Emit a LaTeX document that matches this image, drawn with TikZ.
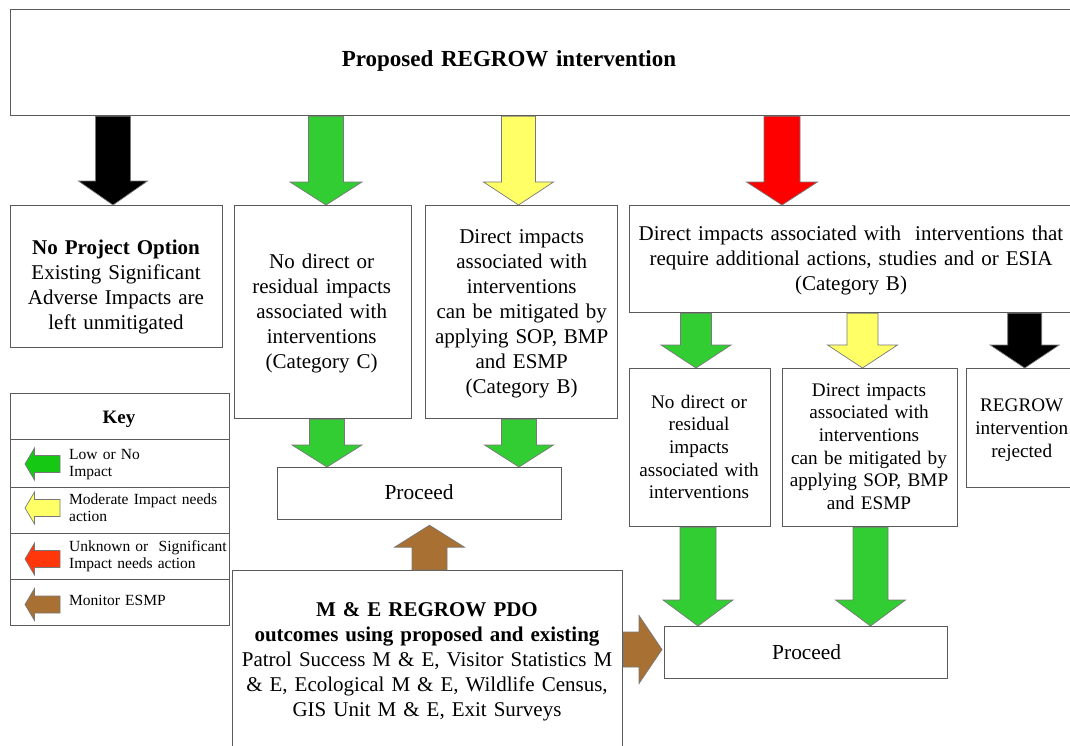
\documentclass[tikz,border=0pt]{standalone}
\usepackage{fontspec}
\setmainfont{Liberation Serif}
\usetikzlibrary{calc}
\definecolor{bordergray}{RGB}{90,90,90}
\definecolor{edgegray}{RGB}{120,120,120}
\definecolor{agreen}{RGB}{50,205,50}
\definecolor{ayellow}{RGB}{255,255,102}
\definecolor{ared}{RGB}{255,0,0}
\definecolor{kgreen}{RGB}{20,200,20}
\definecolor{kred}{RGB}{255,55,10}
\definecolor{abrown}{RGB}{168,112,50}
\tikzset{
  box/.style={draw=bordergray, line width=1.2pt, fill=white, inner sep=0pt, anchor=north west},
  txt/.style={text width=#1, align=center, anchor=base, inner sep=0pt},
  ltxt/.style={text width=#1, align=left, anchor=base west, inner sep=0pt},
  bigfont/.style={font=\fontsize{21}{25}\selectfont},
  subfont/.style={font=\fontsize{19.2}{22.7}\selectfont},
  keyfont/.style={font=\fontsize{15.5}{17}\selectfont},
  blockarrow/.style={draw=edgegray, line width=0.7pt, line join=miter},
}
% vertical block arrow: colour, x, from, to, head length, shaft half width, head half width
\newcommand{\vblk}[7]{\draw[blockarrow, fill=#1] let \p1=(#3), \p2=(#4), \n1={sign(\y2-\y1)} in
  ({(#2-#6)*1pt},\y1) -- ({(#2+#6)*1pt},\y1) -- ({(#2+#6)*1pt},{\y2-(\n1)*#5pt}) --
  ({(#2+#7)*1pt},{\y2-(\n1)*#5pt}) -- ({#2pt},\y2) -- ({(#2-#7)*1pt},{\y2-(\n1)*#5pt}) --
  ({(#2-#6)*1pt},{\y2-(\n1)*#5pt}) -- cycle;}
% horizontal block arrow: colour, y, from, to, head length, shaft half width, head half width
\newcommand{\hblk}[7]{\draw[blockarrow, fill=#1] let \p1=(#3), \p2=(#4), \n1={sign(\x2-\x1)} in
  (\x1,{(#6-#2)*1pt}) -- ({\x2-(\n1)*#5pt},{(#6-#2)*1pt}) -- ({\x2-(\n1)*#5pt},{(#7-#2)*1pt}) --
  (\x2,{-#2pt}) -- ({\x2-(\n1)*#5pt},{(-#7-#2)*1pt}) -- ({\x2-(\n1)*#5pt},{(-#6-#2)*1pt}) --
  (\x1,{(-#6-#2)*1pt}) -- cycle;}
\begin{document}
\frenchspacing
\begin{tikzpicture}[x=1pt,y=-1pt]
\useasboundingbox (0,0) rectangle (1070,745);
\fill[white] (0,0) rectangle (1070,745);

% boxes
\node[box, minimum width=1080pt, minimum height=106pt] (top) at (10,9) {};
\node[box, minimum width=212pt, minimum height=142pt] (npo) at (10,205) {};
\node[box, minimum width=177pt, minimum height=213pt] (ndc) at (234,205) {};
\node[box, minimum width=192pt, minimum height=213pt] (dib) at (425,205) {};
\node[box, minimum width=444pt, minimum height=107pt] (rbox) at (629,205) {};
\node[box, minimum width=141pt, minimum height=158pt] (sg) at (629,368) {};
\node[box, minimum width=175pt, minimum height=158pt] (sy) at (782,368) {};
\node[box, minimum width=113pt, minimum height=119pt] (rej) at (966,368) {};
\node[box, minimum width=284pt, minimum height=52pt] (p1) at (277,467) {};
\node[box, minimum width=283pt, minimum height=52pt] (p2) at (664,626) {};
\node[box, minimum width=390pt, minimum height=200pt] (me) at (232,570) {};
% key
\node[box, minimum width=219pt, minimum height=46pt] (k0) at (10,393) {};
\node[box, minimum width=219pt, minimum height=48pt] (k1) at (10,439) {};
\node[box, minimum width=219pt, minimum height=46pt] (k2) at (10,487) {};
\node[box, minimum width=219pt, minimum height=46pt] (k3) at (10,533) {};
\node[box, minimum width=219pt, minimum height=46pt] (k4) at (10,579) {};

% texts
\node[txt=400pt, font=\bfseries\fontsize{23}{27}\selectfont] (title) at (509,66.7) {Proposed REGROW intervention};
\node[txt=205pt, bigfont] (npo-t) at (116,254) {{\bfseries No Project Option}\\Existing Significant\\Adverse Impacts are\\left unmitigated};
\node[txt=175pt, bigfont] (ndc-t) at (321.7,268) {No direct or\\residual impacts\\associated with\\interventions\\(Category C)};
\node[txt=190pt, bigfont] (dib-t) at (521.7,243) {Direct impacts\\associated with\\interventions\\can be mitigated by\\applying SOP, BMP\\and ESMP\\(Category B)};
\node[txt=440pt, bigfont] (rbox-t) at (851,240) {Direct impacts associated with\ \ interventions that\\require additional actions, studies and or ESIA\\(Category B)};
\node[txt=140pt, subfont] (sg-t) at (699,408) {No direct or\\residual\\impacts\\associated with\\interventions};
\node[txt=175pt, subfont] (sy-t) at (869,396) {Direct impacts\\associated with\\interventions\\can be mitigated by\\applying SOP, BMP\\and ESMP};
\node[txt=110pt, subfont] (rej-t) at (1021.7,411.7) {REGROW\\intervention\\rejected};
\node[txt=200pt, font=\fontsize{21.4}{25}\selectfont] (p1-t) at (419,499.3) {Proceed};
\node[txt=200pt, font=\fontsize{21.4}{25}\selectfont] (p2-t) at (806.7,659.3) {Proceed};
\node[txt=400pt, bigfont] (me-t) at (427,616) {{\bfseries M \& E REGROW PDO}\\{\bfseries outcomes using proposed and existing}\\Patrol Success M \& E, Visitor Statistics M\\\& E, Ecological M \& E, Wildlife Census,\\GIS Unit M \& E, Exit Surveys};
\node[txt=100pt, font=\bfseries\fontsize{19}{22}\selectfont] (k0-t) at (119,423) {Key};
\node[ltxt=160pt, keyfont] (k1-t) at (69,459) {Low or No\\Impact};
\node[ltxt=160pt, keyfont] (k2-t) at (69,504) {Moderate Impact needs\\action};
\node[ltxt=160pt, keyfont] (k3-t) at (69,551.7) {Unknown or\ \ Significant\\Impact needs action};
\node[ltxt=160pt, keyfont] (k4-t) at (69,605) {Monitor ESMP};

% connectors (block arrows)
\vblk{black}{113}{top.south}{npo.north}{24}{17.5}{34.5}
\vblk{agreen}{326}{top.south}{ndc.north}{23}{17.5}{36}
\vblk{ayellow}{518.5}{top.south}{dib.north}{23}{17}{35}
\vblk{ared}{782}{top.south}{rbox.north}{23}{18}{35.5}
\vblk{agreen}{696}{rbox.south}{sg.north}{23}{15.5}{35}
\vblk{ayellow}{862.5}{rbox.south}{sy.north}{23}{15.5}{35}
\vblk{black}{1024.7}{rbox.south}{rej.north}{23}{17}{34.5}
\vblk{agreen}{698}{sg.south}{p2.north}{26}{18}{35}
\vblk{agreen}{870.5}{sy.south}{p2.north}{26}{17.5}{35}
\vblk{agreen}{327}{ndc.south}{p1.north}{22}{17.5}{35}
\vblk{agreen}{519}{dib.south}{p1.north}{22}{17.5}{34.5}
\coordinate (p1tip) at ([yshift=-5pt]p1.south);
\vblk{abrown}{429.5}{me.north}{p1tip}{22}{17.5}{35}
\coordinate (p2tip) at ([xshift=-2pt]p2.west);
\hblk{abrown}{649.5}{me.east}{p2tip}{23}{17.5}{34}

% key icons
\coordinate (kg1) at (60,464);  \coordinate (kg2) at (25,464);
\coordinate (ky1) at (60,508);  \coordinate (ky2) at (25,508);
\coordinate (kr1) at (60,559);  \coordinate (kr2) at (25,559);
\coordinate (kb1) at (60,604.5);\coordinate (kb2) at (25,604.5);
\hblk{kgreen}{464}{kg1}{kg2}{9.5}{8.5}{16}
\hblk{ayellow}{508}{ky1}{ky2}{9.5}{8.5}{16}
\hblk{kred}{559}{kr1}{kr2}{9.5}{8.5}{16}
\hblk{abrown}{604.5}{kb1}{kb2}{9.5}{8.5}{16}
\end{tikzpicture}
\end{document}
